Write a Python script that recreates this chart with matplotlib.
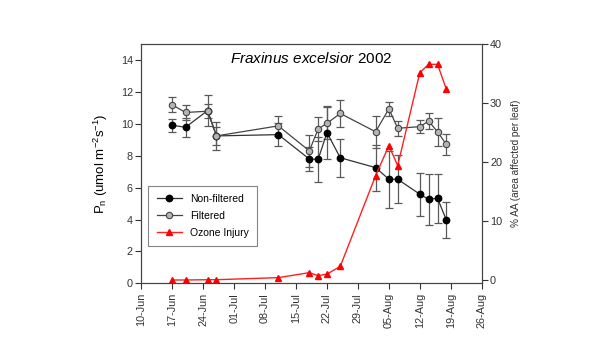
import numpy as np
import pandas as pd
import matplotlib
matplotlib.use("Agg")
import matplotlib.pyplot as plt
import matplotlib.dates as mdates

plt.rcParams["font.family"] = ["Liberation Sans", "DejaVu Sans"]
plt.rcParams["mathtext.fontset"] = "custom"
plt.rcParams["mathtext.rm"] = "Liberation Sans"
plt.rcParams["mathtext.it"] = "Liberation Sans:italic"

dates = pd.to_datetime(["2002-06-17", "2002-06-20", "2002-06-25", "2002-06-27",
                        "2002-07-11", "2002-07-18", "2002-07-20", "2002-07-22",
                        "2002-07-25", "2002-08-02", "2002-08-05", "2002-08-07",
                        "2002-08-12", "2002-08-14", "2002-08-16", "2002-08-18"])

nonfilt = [9.92, 9.79, 10.84, 9.25, 9.33, 7.8, 7.78, 9.46,
           7.88, 7.26, 6.53, 6.53, 5.59, 5.27, 5.34, 3.97]
nonfilt_err = [0.4, 0.6, 0.99, 0.86, 0.7, 0.75, 1.4, 1.65,
               1.2, 1.45, 1.78, 1.52, 1.34, 1.6, 1.55, 1.12]

filt = [11.2, 10.72, 10.8, 9.25, 9.88, 8.31, 9.68, 10.04,
        10.66, 9.51, 10.95, 9.73, 9.83, 10.18, 9.51, 8.72]
filt_err = [0.48, 0.45, 0.45, 0.55, 0.65, 1.0, 0.75, 1.0,
            0.82, 1.0, 0.42, 0.48, 0.4, 0.52, 0.87, 0.65]

ozone = [0.0, 0.0, 0.05, 0.05, 0.4, 1.25, 0.74, 1.0,
         2.3, 17.7, 22.8, 19.4, 35.2, 36.6, 36.6, 32.4]

fig = plt.figure(figsize=(6.16, 3.56), dpi=100)
ax = fig.add_axes([0.2294, 0.2042, 0.5526, 0.6714])
ax2 = ax.twinx()

ax.errorbar(dates, nonfilt, yerr=nonfilt_err, fmt="none", ecolor="#5a5a5a",
            elinewidth=0.9, capsize=2.8, capthick=0.9, zorder=2)
ax.errorbar(dates, filt, yerr=filt_err, fmt="none", ecolor="#5a5a5a",
            elinewidth=0.9, capsize=2.8, capthick=0.9, zorder=2)
l1, = ax.plot(dates, nonfilt, "-o", color="#333333", lw=0.9, ms=4.6,
              mfc="black", mec="black", label="Non-filtered", zorder=3)
l2, = ax.plot(dates, filt, "-o", color="#444444", lw=0.9, ms=4.6,
              mfc="#b4b4b4", mec="#444444", mew=0.8, label="Filtered", zorder=3)
l3, = ax2.plot(dates, ozone, "-^", color="#ff2020", lw=1.0, ms=4.8,
               mfc="#ff0000", mec="#ff0000", label="Ozone Injury")

ax.set_xlim(pd.Timestamp("2002-06-10"), pd.Timestamp("2002-08-26"))
ax.set_ylim(0, 15)
ax.set_yticks(np.arange(0, 15, 2))
ax2.set_ylim(-0.56, 40)
ax2.set_yticks([0, 10, 20, 30, 40])

ax.set_xticks(pd.date_range("2002-06-10", "2002-08-26", freq="7D"))
ax.xaxis.set_major_formatter(mdates.DateFormatter("%d-%b"))
for lab in ax.get_xticklabels():
    lab.set_rotation(90)

for a in (ax, ax2):
    a.tick_params(labelsize=7.8, colors="#333333", length=4, width=0.8,
                  direction="out", pad=2)
    for s in a.spines.values():
        s.set_color("#444444")
        s.set_linewidth(0.8)
ax.tick_params(axis="x", pad=3)

ax.set_ylabel("P$_\\mathrm{n}$ (umol m$^\\mathrm{-2}$s$^\\mathrm{-1}$)",
              fontsize=9.5, labelpad=8)
ax2.set_ylabel("% AA (area affected per leaf)", fontsize=7.2, color="#333333",
               labelpad=6)

ax.text(0.5, 0.94, "$\\it{Fraxinus\\ excelsior}$ 2002", transform=ax.transAxes,
        ha="center", va="center", fontsize=11)

leg = ax.legend(handles=[l1, l2, l3], loc="upper left",
                bbox_to_anchor=(0.005, 0.43), fontsize=7.5, frameon=True,
                fancybox=False, edgecolor="#666666", handlelength=2.4,
                borderpad=0.8, labelspacing=0.65)
leg.get_frame().set_linewidth(0.8)

fig.savefig("out.png", dpi=100)
